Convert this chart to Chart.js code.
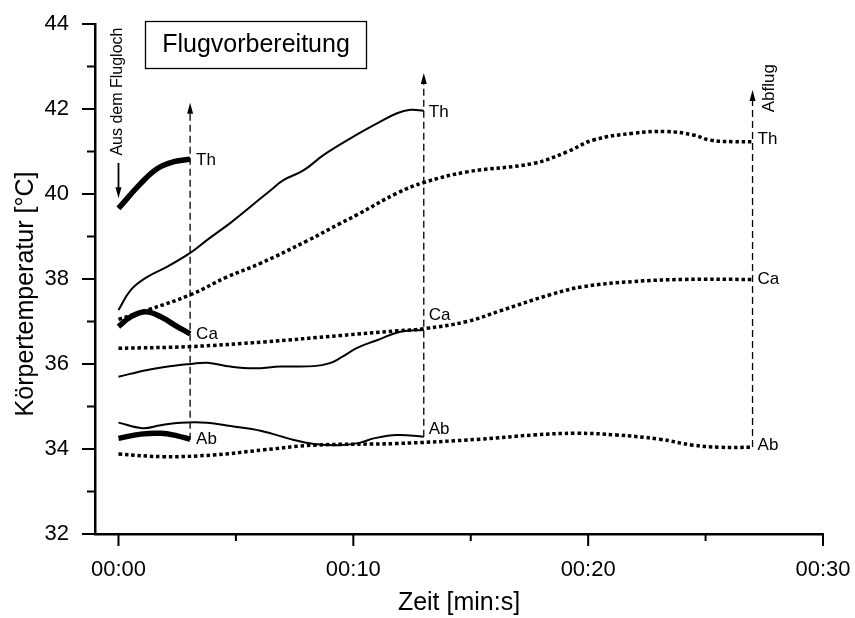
<!DOCTYPE html>
<html>
<head>
<meta charset="utf-8">
<script src="https://cdn.jsdelivr.net/npm/chart.js@4.4.0/dist/chart.umd.min.js"></script>
<style>
    html, body { margin: 0; padding: 0; background: #fff; }
</style>
</head>
<body>
<canvas id="tempChart" width="855" height="618"></canvas>
<script>
"use strict";

const FONT = "'Liberation Sans', Arial, sans-serif";

// Zeit in Minuten, Temperatur in °C
// Dicke Linien: direkt nach dem Verlassen des Flugloches
const thickThTime = [0, 0.95, 1.66, 2.36, 3.05];
const thickThTemp = [39.66, 40.25, 40.6, 40.76, 40.82];
const thickCaTime = [0, 0.52, 1.16, 1.8, 2.5, 3.05];
const thickCaTemp = [36.88, 37.11, 37.23, 37.11, 36.88, 36.71];
const thickAbTime = [0, 0.95, 1.8, 2.5, 3.05];
const thickAbTemp = [34.25, 34.35, 34.37, 34.31, 34.23];

// Durchgezogene Linien
const solidThTime = [0, 0.52, 1.23, 2.08, 3.07, 3.78, 4.77, 5.62, 6.48, 7.04, 7.89, 8.74, 9.88, 11.01, 11.86, 12.43, 13];
const solidThTemp = [37.27, 37.74, 38.05, 38.29, 38.62, 38.92, 39.32, 39.7, 40.09, 40.33, 40.56, 40.92, 41.31, 41.66, 41.9, 41.98, 41.96];
const solidCaTime = [0, 1.23, 2.36, 3.07, 3.78, 4.77, 5.77, 6.9, 8.32, 9.0, 9.5, 10.16, 11.01, 12.0, 13];
const solidCaTemp = [35.7, 35.86, 35.96, 36.0, 36.03, 35.94, 35.9, 35.94, 35.95, 36.02, 36.16, 36.38, 36.56, 36.76, 36.8];
const solidAbTime = [0, 1.02, 1.8, 2.65, 3.78, 4.77, 6.05, 7.47, 8.32, 9.45, 10.3, 10.87, 11.86, 13];
const solidAbTemp = [34.62, 34.49, 34.56, 34.62, 34.62, 34.54, 34.43, 34.21, 34.12, 34.09, 34.15, 34.25, 34.33, 34.29];

// Gepunktete Linien
const dottedThTime = [0, 1.23, 3.07, 4.63, 6.05, 8.04, 9.45, 10.16, 11.86, 13, 14.84, 17.67, 19.09, 20.22, 21.92, 23.34, 24.47, 25.18, 26.17, 27];
const dottedThTemp = [37.05, 37.27, 37.63, 38.05, 38.37, 38.9, 39.31, 39.51, 40.02, 40.27, 40.52, 40.72, 40.99, 41.27, 41.43, 41.47, 41.39, 41.27, 41.23, 41.23];
const dottedCaTime = [0, 3.07, 6.19, 9.45, 11.86, 13, 14.84, 16.25, 18.38, 19.8, 21.92, 24.05, 27];
const dottedCaTemp = [36.37, 36.41, 36.52, 36.67, 36.78, 36.83, 37.0, 37.25, 37.63, 37.82, 37.94, 37.99, 37.99];
const dottedAbTime = [0, 1.94, 4.06, 6.19, 8.32, 11.86, 15.4, 17.67, 19.51, 21.21, 23.05, 24.47, 25.6, 27];
const dottedAbTemp = [33.88, 33.82, 33.86, 33.98, 34.09, 34.13, 34.23, 34.33, 34.37, 34.33, 34.23, 34.09, 34.04, 34.04];

// Senkrechte Markierungen (gestrichelt, Pfeil oben)
const markerTime = [3.05, 13, 27];
const markerBottom = [34.22, 34.29, 34.05];
const markerTop = [42.15, 42.85, 42.45];

// Achsen
const xTickValues = [0, 10, 20, 30];
const xTickLabels = ["00:00", "00:10", "00:20", "00:30"];
const xMinorTicks = [5, 15, 25];
const yTickValues = [32, 34, 36, 38, 40, 42, 44];
const yMinorTicks = [33, 35, 37, 39, 41, 43];

const seriesNames = ["Th", "Ca", "Ab", "Th", "Ca", "Ab", "Th", "Ca", "Ab"];
const seriesKinds = ["thick", "thick", "thick", "solid", "solid", "solid", "dotted", "dotted", "dotted"];
const seriesTimes = [thickThTime, thickCaTime, thickAbTime, solidThTime, solidCaTime, solidAbTime, dottedThTime, dottedCaTime, dottedAbTime];
const seriesTemps = [thickThTemp, thickCaTemp, thickAbTemp, solidThTemp, solidCaTemp, solidAbTemp, dottedThTemp, dottedCaTemp, dottedAbTemp];

const lineStyles = {
    thick: { borderWidth: 5.5, borderDash: [] },
    solid: { borderWidth: 2, borderDash: [] },
    dotted: { borderWidth: 3.5, borderDash: [3.5, 2.8] }
};
// Verschiebung der Beschriftung gegenüber dem letzten Punkt (px)
const labelShift = [[6, 1], [6, 0], [6, 0], [5, 2], [5, -15], [5, -7], [5, -2], [5, 0], [5, -2]];

const datasets = seriesNames.map((name, i) => ({
    label: name,
    data: seriesTimes[i].map((t, j) => ({ x: t, y: seriesTemps[i][j] })),
    borderColor: "#000",
    borderWidth: lineStyles[seriesKinds[i]].borderWidth,
    borderDash: lineStyles[seriesKinds[i]].borderDash,
    tension: 0.4,
    pointRadius: 0,
    fill: false
}));

markerTime.forEach((t, i) => {
    datasets.push({
        label: "marker",
        data: [{ x: t, y: markerBottom[i] }, { x: t, y: markerTop[i] - 0.15 }],
        borderColor: "#000",
        borderWidth: 1.3,
        borderDash: [7, 4],
        tension: 0,
        pointRadius: 0,
        fill: false
    });
});

function arrowHead(ctx, x, y, dir, len, half) {
    ctx.beginPath();
    ctx.moveTo(x, y);
    ctx.lineTo(x - half, y - dir * len);
    ctx.lineTo(x + half, y - dir * len);
    ctx.closePath();
    ctx.fill();
}

const decorations = {
    id: "decorations",
    afterDraw(chart) {
        const { ctx, scales: { x, y } } = chart;
        ctx.save();
        ctx.fillStyle = "#000";
        ctx.strokeStyle = "#000";

        // Achsen-Striche
        ctx.lineWidth = 2;
        ctx.beginPath();
        xTickValues.forEach((v) => {
            const px = x.getPixelForValue(v);
            ctx.moveTo(px, y.bottom); ctx.lineTo(px, y.bottom + 12);
        });
        xMinorTicks.forEach((v) => {
            const px = x.getPixelForValue(v);
            ctx.moveTo(px, y.bottom); ctx.lineTo(px, y.bottom + 7);
        });
        yTickValues.forEach((v) => {
            const py = y.getPixelForValue(v);
            ctx.moveTo(x.left, py); ctx.lineTo(x.left - 13, py);
        });
        yMinorTicks.forEach((v) => {
            const py = y.getPixelForValue(v);
            ctx.moveTo(x.left, py); ctx.lineTo(x.left - 8, py);
        });
        ctx.stroke();

        // Pfeilspitzen der Markierungen
        markerTime.forEach((t, i) => {
            arrowHead(ctx, x.getPixelForValue(t), y.getPixelForValue(markerTop[i]), -1, 11, 3);
        });

        // Pfeil "Aus dem Flugloch"
        const ax = x.getPixelForValue(0);
        ctx.lineWidth = 1.8;
        ctx.beginPath();
        ctx.moveTo(ax, y.getPixelForValue(40.73));
        ctx.lineTo(ax, y.getPixelForValue(39.9) - 8);
        ctx.stroke();
        arrowHead(ctx, ax, y.getPixelForValue(39.9), 1, 11, 3);

        // Beschriftung der Kurven
        ctx.font = "17px " + FONT;
        ctx.textAlign = "left";
        ctx.textBaseline = "middle";
        seriesNames.forEach((name, i) => {
            const pts = chart.getDatasetMeta(i).data;
            const last = pts[pts.length - 1];
            ctx.fillText(name, last.x + labelShift[i][0], last.y + labelShift[i][1]);
        });

        // Senkrechte Texte
        const vText = (text, px, py) => {
            ctx.save();
            ctx.translate(px, py);
            ctx.rotate(-Math.PI / 2);
            ctx.textAlign = "center";
            ctx.fillText(text, 0, 0);
            ctx.restore();
        };
        ctx.font = "16px " + FONT;
        vText("Aus dem Flugloch", ax - 1, y.getPixelForValue(42.41));
        ctx.font = "17px " + FONT;
        vText("Abflug", x.getPixelForValue(27.73), y.getPixelForValue(42.49));

        // y-Achsentitel
        ctx.font = "25px " + FONT;
        vText("Körpertemperatur [°C]", 26, 294);

        // Kasten "Flugvorbereitung"
        ctx.lineWidth = 1.3;
        ctx.strokeRect(145.5, 21.5, 221, 47);
        ctx.textAlign = "center";
        ctx.fillText("Flugvorbereitung", 256, 45);

        ctx.restore();
    }
};

new Chart(document.getElementById("tempChart").getContext("2d"), {
    type: "line",
    data: { datasets },
    options: {
        responsive: false,
        animation: false,
        devicePixelRatio: 1,
        layout: { padding: { top: 24, right: 32, left: 0, bottom: 0 } },
        plugins: { legend: { display: false }, tooltip: { enabled: false } },
        scales: {
            x: {
                type: "linear",
                min: -1,
                max: 30,
                afterBuildTicks: (scale) => { scale.ticks = xTickValues.map((v) => ({ value: v })); },
                afterFit: (scale) => {
                    scale.height = 84;
                    scale.paddingLeft = 0;
                    scale.paddingRight = 0;
                },
                grid: { display: false },
                border: { display: true, color: "#000", width: 2.5 },
                ticks: {
                    color: "#000",
                    font: { family: FONT, size: 22 },
                    padding: 15,
                    maxRotation: 0,
                    autoSkip: false,
                    callback: (value, index) => xTickLabels[index]
                },
                title: { display: true, text: "Zeit [min:s]", color: "#000", font: { family: FONT, size: 25 }, padding: 0 }
            },
            y: {
                type: "linear",
                min: 32,
                max: 44,
                afterBuildTicks: (scale) => { scale.ticks = yTickValues.map((v) => ({ value: v })); },
                afterFit: (scale) => {
                    scale.width = 95;
                    scale.paddingTop = 0;
                    scale.paddingBottom = 0;
                },
                grid: { display: false },
                border: { display: true, color: "#000", width: 2.5 },
                ticks: {
                    color: "#000",
                    font: { family: FONT, size: 22 },
                    padding: 18,
                    autoSkip: false,
                    callback: (value) => String(value)
                }
            }
        }
    },
    plugins: [decorations]
});
</script>
</body>
</html>
